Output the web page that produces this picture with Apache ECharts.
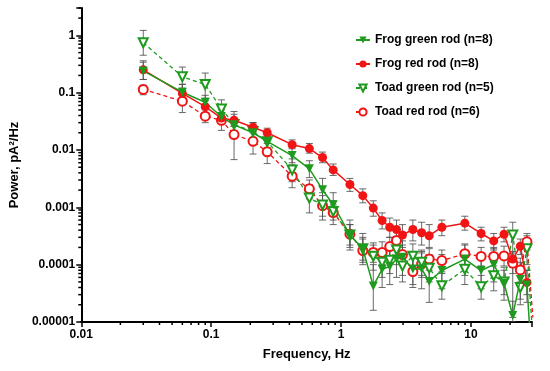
<!DOCTYPE html>
<html>
<head>
<meta charset="utf-8">
<script src="https://cdn.jsdelivr.net/npm/echarts@6/dist/echarts.min.js"></script>
<style>html,body{margin:0;padding:0;background:#fff;}#chart{width:550px;height:371px;}</style>
</head>
<body>
<div id="chart"></div>
<script>
// ---------------- data ----------------
const freqs = [0.03,0.06,0.09,0.12,0.15,0.21,0.27,0.42,0.57,0.72,0.87,1.17,1.47,1.77,2.07,2.37,2.67,2.97,3.57,4.17,4.77,5.97,8.97,11.97,14.97,17.97,20.97,23.97,26.97,29.97];

const seriesNames = ['Frog green rod (n=8)','Frog red rod (n=8)','Toad green rod (n=5)','Toad red rod (n=6)'];

const frogGreen   = [0.24,0.102,0.068,0.038,0.0275,0.020,0.0142,0.008,0.0047,0.00203,0.00111,0.00033,0.00019,0.0000426,0.000083,0.000093,0.000125,0.000135,0.000084,0.000084,0.000051,0.000079,0.000125,0.000079,0.0001,0.0000475,0.000013,0.000055,0.000044,0.000001];
const frogGreenHi = [0.34,0.14,0.09,0.05,0.035,0.025,0.018,0.011,0.0065,0.0032,0.0018,0.0006,0.00035,0.0001,0.00016,0.00018,0.00024,0.00026,0.00017,0.00017,0.00011,0.00015,0.00022,0.00015,0.00019,0.00009,0.000023,0.00011,0.00008,0.000001];
const frogGreenLo = [0.17,0.075,0.05,0.029,0.022,0.016,0.011,0.006,0.0033,0.0013,0.0007,0.00018,0.0001,0.000016,0.00004,0.000045,0.00006,0.000065,0.00004,0.000038,0.000022,0.000038,0.000065,0.000038,0.00005,0.000024,0.00001,0.000025,0.000022,0.000001];

const frogRed   = [0.25,0.097,0.057,0.036,0.033,0.025,0.020,0.0124,0.0106,0.0074,0.0045,0.0025,0.0016,0.00097,0.00059,0.00045,0.00041,0.00033,0.00041,0.00036,0.00032,0.00045,0.00053,0.00035,0.00026,0.00034,0.000125,0.00021,0.000049,null];
const frogRedHi = [0.36,0.14,0.072,0.045,0.042,0.03,0.024,0.015,0.013,0.0092,0.0057,0.0032,0.0021,0.0013,0.0008,0.00065,0.0006,0.0005,0.0006,0.00055,0.0005,0.0006,0.0007,0.00045,0.00035,0.00045,0.00017,0.00028,0.00008,null];
const frogRedLo = [0.17,0.065,0.045,0.029,0.026,0.021,0.017,0.0105,0.0088,0.006,0.0036,0.0019,0.0012,0.0007,0.00042,0.0003,0.00026,0.0002,0.00026,0.00022,0.0002,0.00032,0.0004,0.00026,0.00018,0.00025,0.00009,0.00015,0.00003,null];

const toadGreen   = [0.745,0.19,0.139,0.052,0.028,0.021,0.014,0.0045,0.00145,0.0011,0.00085,0.00033,0.00019,0.00014,0.00011,0.00012,0.00018,0.000095,0.00014,0.00011,0.000087,0.000043,0.000083,0.000041,0.000064,0.00005,0.00033,0.00004,0.00019,0.000005];
const toadGreenHi = [1.22,0.28,0.22,0.075,0.047,0.03,0.02,0.007,0.0025,0.0018,0.0013,0.0005,0.0003,0.00022,0.00018,0.0002,0.0003,0.00016,0.00023,0.00018,0.00015,0.00007,0.00014,0.000065,0.00011,0.00008,0.00055,0.00007,0.00032,0.000005];
const toadGreenLo = [0.45,0.12,0.08,0.035,0.017,0.014,0.009,0.0028,0.0008,0.0006,0.0005,0.0002,0.00012,0.00008,0.00006,0.00007,0.0001,0.00005,0.00008,0.00006,0.00005,0.000025,0.000045,0.000025,0.000035,0.00003,0.000012,0.00002,0.0001,0.000005];

const toadRed   = [0.114,0.071,0.039,0.033,0.0186,0.0142,0.0093,0.0035,0.0021,0.00107,0.00081,0.00034,0.000176,0.000163,0.000163,0.000207,0.000264,0.00015,0.000076,0.000103,0.000126,0.000118,0.000155,0.000139,0.000139,0.000142,0.000106,0.000081,0.00025,0.000012];
const toadRedHi = [0.135,0.1,0.055,0.045,0.026,0.02,0.013,0.0055,0.003,0.0016,0.0011,0.0005,0.00028,0.00024,0.00025,0.0003,0.00038,0.00022,0.00013,0.00016,0.00019,0.00018,0.00023,0.0002,0.0002,0.00021,0.00016,0.00013,0.00035,0.000012];
const toadRedLo = [0.092,0.045,0.03,0.022,0.0068,0.0085,0.0058,0.0022,0.0014,0.0007,0.0006,0.00022,0.00011,0.00011,0.0001,0.00014,0.00018,0.0001,0.000045,0.000065,0.00008,0.000075,0.0001,0.000095,0.000095,0.000095,0.00007,0.00005,0.00018,0.000012];

const xTickLabels = ['0.01','0.1','1','10'];
const yTickLabels = ['0.00001','0.0001','0.001','0.01','0.1','1'];
const xMin = 0.01, xMax = 29.5, yMin = 0.00001, yMax = 3;

// ---------------- helpers ----------------
const GREEN = '#1e9a1e', RED = '#f01414', FONT = '"Liberation Sans", Arial, sans-serif';

function pts(vals){ const out=[]; freqs.forEach((f,i)=>{ if(vals[i]!=null) out.push([f, vals[i]]); }); return out; }
function bars(lo, hi){ const out=[]; freqs.forEach((f,i)=>{ if(lo[i]!=null && hi[i]!=null && hi[i]>lo[i]) out.push([f, lo[i], hi[i]]); }); return out; }

function errRender(params, api){
  const x = api.value(0);
  const top = api.coord([x, api.value(2)]);
  const bot = api.coord([x, api.value(1)]);
  const w = 3.5;
  const style = {stroke:'#505050', lineWidth:1, opacity:0.85};
  return {type:'group', children:[
    {type:'line', shape:{x1:top[0],y1:top[1],x2:bot[0],y2:bot[1]}, style:style},
    {type:'line', shape:{x1:top[0]-w,y1:top[1],x2:top[0]+w,y2:top[1]}, style:style},
    {type:'line', shape:{x1:bot[0]-w,y1:bot[1],x2:bot[0]+w,y2:bot[1]}, style:style}
  ]};
}
function errSeries(lo, hi){
  return {type:'custom', silent:true, z:1, clip:true, renderItem:errRender,
          encode:{x:0, y:[1,2]}, data:bars(lo,hi)};
}
function labelFor(list, decadeStart){
  return function(v){
    const e = Math.log10(v); const r = Math.round(e);
    if (Math.abs(e-r) > 1e-6) return '';
    const idx = r - decadeStart;
    return (idx>=0 && idx<list.length) ? list[idx] : '';
  };
}
// minor tick positions (2..9 per decade) for the log axes
const xMinor=[], yMinor=[];
for (let d=-2; d<=1; d++) for (let k=2;k<=9;k++){ const v=k*Math.pow(10,d); if(v<=xMax) xMinor.push([v, yMin]); }
for (let d=-5; d<=0; d++) for (let k=2;k<=9;k++){ const v=k*Math.pow(10,d); if(v<=yMax) yMinor.push([xMin, v]); }

const tickStyle = {stroke:'#000', lineWidth:1.5};

const chart = echarts.init(document.getElementById('chart'), null, {renderer:'canvas'});
chart.setOption({
  animation:false,
  backgroundColor:'#fff',
  textStyle:{fontFamily:FONT},
  grid:{left:73, right:18, top:8, bottom:49, containLabel:false},
  legend:{
    data:seriesNames, orient:'vertical', left:350, top:29,
    itemWidth:14, itemHeight:9, itemGap:12,
    textStyle:{fontFamily:FONT, fontWeight:'bold', fontSize:12, color:'#000'}
  },
  xAxis:{
    type:'log', logBase:10, min:xMin, max:xMax,
    name:'Frequency, Hz', nameLocation:'middle', nameGap:26,
    nameTextStyle:{fontFamily:FONT, fontWeight:'bold', fontSize:13, color:'#000'},
    axisLine:{lineStyle:{color:'#000', width:2}},
    axisTick:{show:true, length:5, lineStyle:{color:'#000', width:1.5}},
    axisLabel:{margin:7, fontFamily:FONT, fontWeight:'bold', fontSize:12, color:'#000', formatter:labelFor(xTickLabels,-2)},
    splitLine:{show:false}
  },
  yAxis:{
    type:'log', logBase:10, min:yMin, max:yMax,
    name:'Power, pA²/Hz', nameLocation:'middle', nameGap:52,
    nameTextStyle:{fontFamily:FONT, fontWeight:'bold', fontSize:13, color:'#000'},
    axisLine:{lineStyle:{color:'#000', width:2}},
    axisTick:{show:true, length:5, lineStyle:{color:'#000', width:1.5}},
    axisLabel:{margin:6, fontFamily:FONT, fontWeight:'bold', fontSize:12, color:'#000', formatter:labelFor(yTickLabels,-5)},
    splitLine:{show:false}
  },
  series:[
    errSeries(frogGreenLo, frogGreenHi),
    errSeries(frogRedLo, frogRedHi),
    errSeries(toadGreenLo, toadGreenHi),
    errSeries(toadRedLo, toadRedHi),
    {type:'custom', silent:true, z:5, data:xMinor, encode:{x:0,y:1},
     renderItem:function(p, api){ const c=api.coord([api.value(0), api.value(1)]);
       return {type:'line', shape:{x1:c[0],y1:c[1],x2:c[0],y2:c[1]+3}, style:tickStyle}; }},
    {type:'custom', silent:true, z:5, data:yMinor, encode:{x:0,y:1},
     renderItem:function(p, api){ const c=api.coord([api.value(0), api.value(1)]);
       return {type:'line', shape:{x1:c[0]-3,y1:c[1],x2:c[0],y2:c[1]}, style:tickStyle}; }},
    {name:seriesNames[3], type:'line', z:3, data:pts(toadRed), clip:true,
     symbol:'emptyCircle', symbolSize:9,
     itemStyle:{color:RED, borderWidth:1.5},
     lineStyle:{color:RED, width:1.3, type:[4,3]}},
    {name:seriesNames[2], type:'line', z:3, data:pts(toadGreen), clip:true,
     symbol:'emptyTriangle', symbolSize:9, symbolRotate:180,
     itemStyle:{color:GREEN, borderWidth:1.5},
     lineStyle:{color:GREEN, width:1.3, type:[4,3]}},
    {name:seriesNames[1], type:'line', z:4, data:pts(frogRed), clip:true,
     symbol:'circle', symbolSize:9,
     itemStyle:{color:RED},
     lineStyle:{color:RED, width:1.5}},
    {name:seriesNames[0], type:'line', z:4, data:pts(frogGreen), clip:true,
     symbol:'triangle', symbolSize:9, symbolRotate:180,
     itemStyle:{color:GREEN},
     lineStyle:{color:GREEN, width:1.5}}
  ]
});
</script>
</body>
</html>
